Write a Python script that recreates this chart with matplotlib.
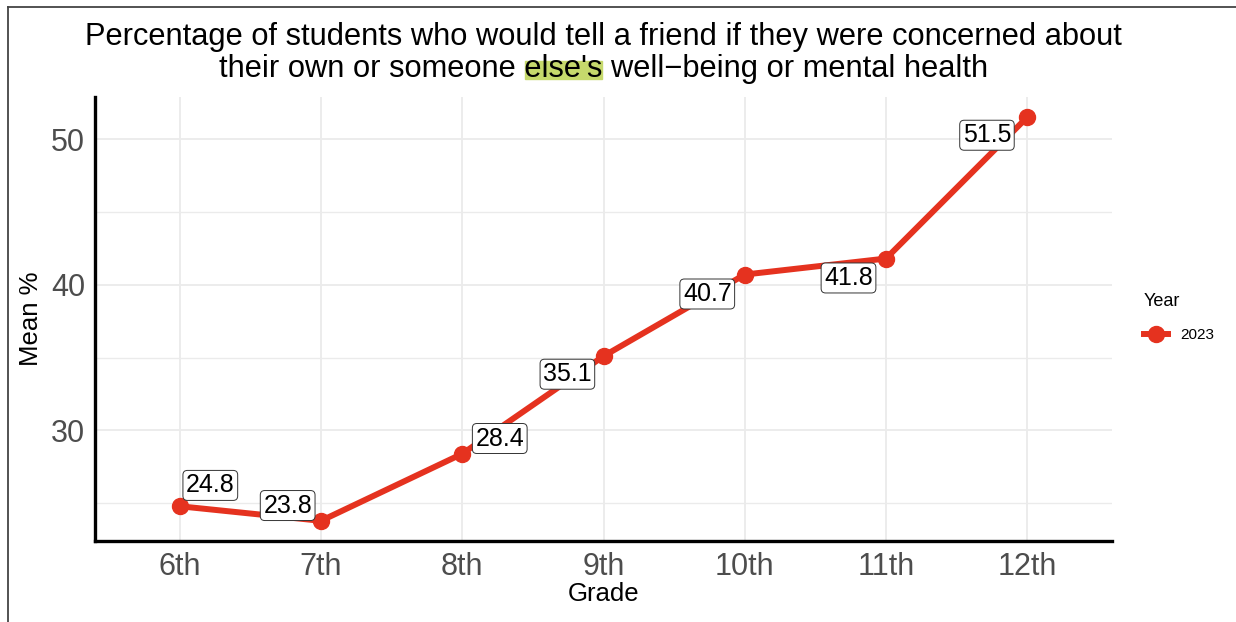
"""
Line chart: share of students who would tell a friend, by grade (2023)
Saves out.png
"""

import matplotlib.pyplot as plt
from matplotlib.lines import Line2D
from matplotlib.patches import Rectangle
import numpy as np

grades = ['6th', '7th', '8th', '9th', '10th', '11th', '12th']
mean_pct = [24.8, 23.8, 28.4, 35.1, 40.7, 41.8, 51.5]
year = '2023'

title_1 = 'Percentage of students who would tell a friend if they were concerned about'
title_2_pre = 'their own or someone '
title_2_mark = "else's"
title_2_post = ' well\u2212being or mental health'

# label offsets (points) as the repel layout placed them
label_dx = [22, -24, 27, -26, -27, -27, -29]
label_dy = [15, 11, 11, -13, -14, -14, -13]

RED = '#E5321F'
GRID = '#EBEBEB'
TITLE_FS = 22.2
plt.rcParams['font.family'] = ['Liberation Sans', 'DejaVu Sans']

fig = plt.figure(figsize=(12.36, 6.22), dpi=100)
ax = fig.add_axes([95 / 1236, 1 - 541 / 622, (1112 - 95) / 1236, (541 - 97) / 622])

x = np.arange(len(grades))
ax.plot(x, mean_pct, color=RED, lw=4.3, marker='o', ms=11.5, zorder=3,
        solid_capstyle='round')

for i, v in enumerate(mean_pct):
    ax.annotate(f'{v:.1f}', xy=(i, v), xytext=(label_dx[i], label_dy[i]),
                textcoords='offset points', ha='center', va='center',
                fontsize=18, color='black', zorder=4,
                bbox=dict(boxstyle='round,pad=0.12,rounding_size=0.18',
                          fc='white', ec='#333333', lw=0.7))

ax.set_xlim(-0.6, len(grades) - 0.4)
lo, hi = min(mean_pct), max(mean_pct)
pad = (hi - lo) * 0.05
ax.set_ylim(lo - pad, hi + pad)
ax.set_xticks(x)
ax.set_xticklabels(grades)
ax.set_yticks([30, 40, 50])
ax.set_yticks([25, 35, 45], minor=True)
ax.tick_params(axis='both', which='both', length=0, labelsize=22, labelcolor='#4D4D4D')
ax.tick_params(axis='x', pad=8)
ax.tick_params(axis='y', pad=7)

ax.grid(True, which='major', color=GRID, lw=1.3, zorder=0)
ax.grid(True, which='minor', axis='y', color=GRID, lw=1.0, zorder=0)
ax.set_axisbelow(True)
for side in ['top', 'right']:
    ax.spines[side].set_visible(False)
for side in ['left', 'bottom']:
    ax.spines[side].set_linewidth(2.4)
    ax.spines[side].set_color('black')

ax.set_xlabel('Grade', fontsize=18.5, labelpad=0)
ax.set_ylabel('Mean %', fontsize=18.5, labelpad=6)

# legend
handle = Line2D([0], [0], color=RED, lw=4.3, marker='o', ms=11.5)
leg = fig.legend([handle], [year], title='Year', loc='upper left',
                 bbox_to_anchor=(1130 / 1236, 1 - 279 / 622), frameon=False,
                 fontsize=11, title_fontsize=13, handlelength=1.6,
                 handletextpad=0.8, labelspacing=1.2, alignment='left')

# title, with highlighted word
cx = (95 + 1112) / 2 / 1236
fig.text(cx, 1 - 37 / 622, title_1, ha='center', va='center', fontsize=TITLE_FS)
full_2 = title_2_pre + title_2_mark + title_2_post
t2 = fig.text(cx, 1 - 69 / 622, full_2, ha='center', va='center', fontsize=TITLE_FS)
fig.canvas.draw()
r = fig.canvas.get_renderer()
bb = t2.get_window_extent(r)
tmp = fig.text(0, 0, title_2_pre + title_2_mark, fontsize=TITLE_FS)
w_pre_mark = tmp.get_window_extent(r).width
tmp.set_text(title_2_pre)
w_pre = tmp.get_window_extent(r).width
tmp.remove()
W = fig.bbox.width
x0 = (bb.x0 + w_pre + 1) / W
x1 = (bb.x0 + w_pre_mark) / W
fig.patches.append(Rectangle((x0, 1 - 79 / 622), x1 - x0, 18 / 622,
                             transform=fig.transFigure, color='#C6D96C', zorder=0))

# screenshot frame
fig.add_artist(Line2D([8 / 1236, 8 / 1236], [0, 1 - 7 / 622], color='#444444',
                      lw=1.3, transform=fig.transFigure))
fig.add_artist(Line2D([8 / 1236, 1], [1 - 7 / 622, 1 - 7 / 622], color='#444444',
                      lw=1.3, transform=fig.transFigure))

fig.savefig('out.png', dpi=100)
